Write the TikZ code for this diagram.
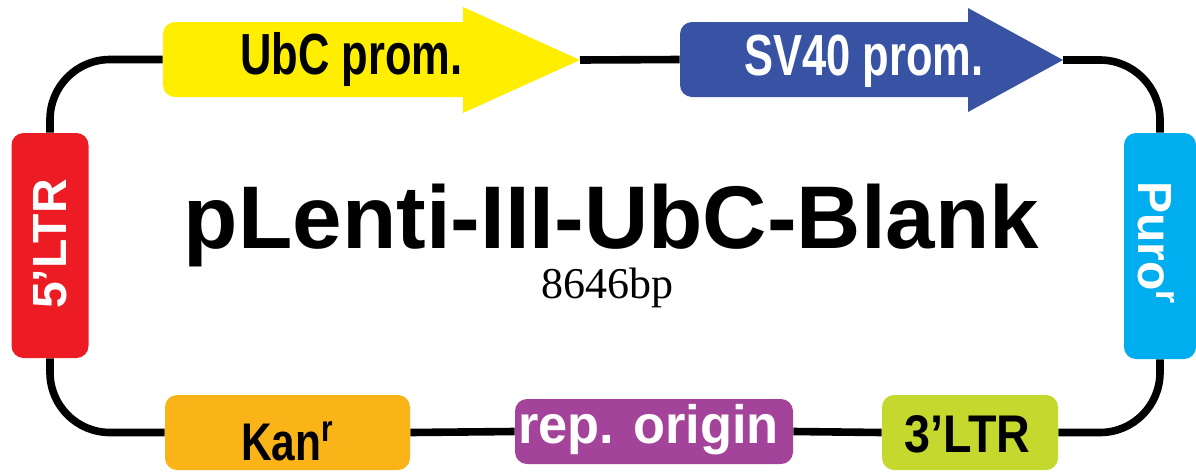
\documentclass[tikz,border=0pt]{standalone}
\usepackage{fontspec}
\usepackage{graphicx}
\setmainfont{Liberation Sans}
\newfontfamily\timesfont{Liberation Serif}
\usetikzlibrary{backgrounds}
\definecolor{ubcyellow}{RGB}{255,238,0}
\definecolor{sv40blue}{RGB}{57,83,164}
\definecolor{ltrred}{RGB}{237,28,36}
\definecolor{purocyan}{RGB}{0,174,239}
\definecolor{kanorange}{RGB}{251,180,24}
\definecolor{reppurple}{RGB}{163,68,154}
\definecolor{ltrgreen}{RGB}{196,216,46}
\begin{document}
\begin{tikzpicture}[x=0.5pt,y=-0.5pt,
  box/.style={rounded corners=6pt, inner sep=0pt, draw=none},
  lbl/.style={inner sep=0pt, anchor=base},
  wire/.style={line width=3.8pt, rounded corners=30pt, draw=black},
]
\useasboundingbox (0,0) rectangle (1196,472);

% feature boxes
\node[box, fill=ltrred, minimum width=38.5pt, minimum height=112.5pt] (ltr5) at (50,245.5) {};
\node[lbl, rotate=90, text=white, font=\fontsize{24}{28}\selectfont\bfseries] (ltr5t) at (67,244) {5’LTR};

\node[box, fill=purocyan, minimum width=36pt, minimum height=113pt] (puro) at (1160,246) {};
\node[lbl, rotate=-90, text=white, font=\fontsize{24}{28}\selectfont\bfseries] (purot) at (1138,243) {Puro\textsuperscript{r}};

\node[box, fill=ubcyellow, minimum width=156pt, minimum height=37.5pt] (ubc) at (319,59.5) {};
\fill[ubcyellow] (463,7) -- (580,60) -- (463,113) -- cycle;
\coordinate (ubctip) at (580,60);
\node[lbl, font=\fontsize{29}{33}\selectfont\bfseries] (ubct) at (351.5,74) {\scalebox{0.75}[1]{UbC prom.}};

\node[box, fill=sv40blue, minimum width=150pt, minimum height=37.5pt] (sv40) at (830,59.5) {};
\fill[sv40blue] (968,8) -- (1063,60) -- (968,112) -- cycle;
\coordinate (sv40tip) at (1063,60);
\node[lbl, text=white, font=\fontsize{29}{33}\selectfont\bfseries] (sv40t) at (864,75) {\scalebox{0.75}[1]{SV40 prom.}};

\node[box, fill=kanorange, minimum width=122.5pt, minimum height=37.5pt] (kan) at (287.5,432.5) {};
\node[lbl, font=\fontsize{26.5}{30}\selectfont\bfseries] (kant) at (287.5,460) {\scalebox{0.8}[1]{Kan\textsuperscript{r}}};

\node[box, fill=reppurple, minimum width=139pt, minimum height=32.5pt] (rep) at (654,431.5) {};
\node[lbl, text=white, font=\fontsize{27}{31}\selectfont\bfseries] (rept) at (648.5,443) {\scalebox{0.97}[1]{rep. origin}};

\node[box, fill=ltrgreen, minimum width=88pt, minimum height=37.5pt] (ltr3) at (970,432.5) {};
\node[lbl, font=\fontsize{26.5}{30}\selectfont\bfseries] (ltr3t) at (967.5,452) {\scalebox{0.88}[1]{3’LTR}};

% title
\node[lbl, font=\fontsize{44.5}{50}\selectfont\bfseries] (title) at (611.5,248) {pLenti-III-UbC-Blank};
\node[lbl, font=\timesfont\fontsize{22}{26}\selectfont] (bp) at (607,298) {8646bp};

% backbone
\begin{scope}[on background layer]
\draw[wire] (ltr5.north) |- (ubc.west);
\draw[wire] (ubctip) -- (sv40.west);
\draw[wire] (sv40tip) -| (puro.north);
\draw[wire] (puro.south) |- (ltr3.east);
\draw[wire] (ltr3.west) -- (rep.east);
\draw[wire] (rep.west) -- (kan.east);
\draw[wire] (kan.west) -| (ltr5.south);
\end{scope}
\end{tikzpicture}
\end{document}
